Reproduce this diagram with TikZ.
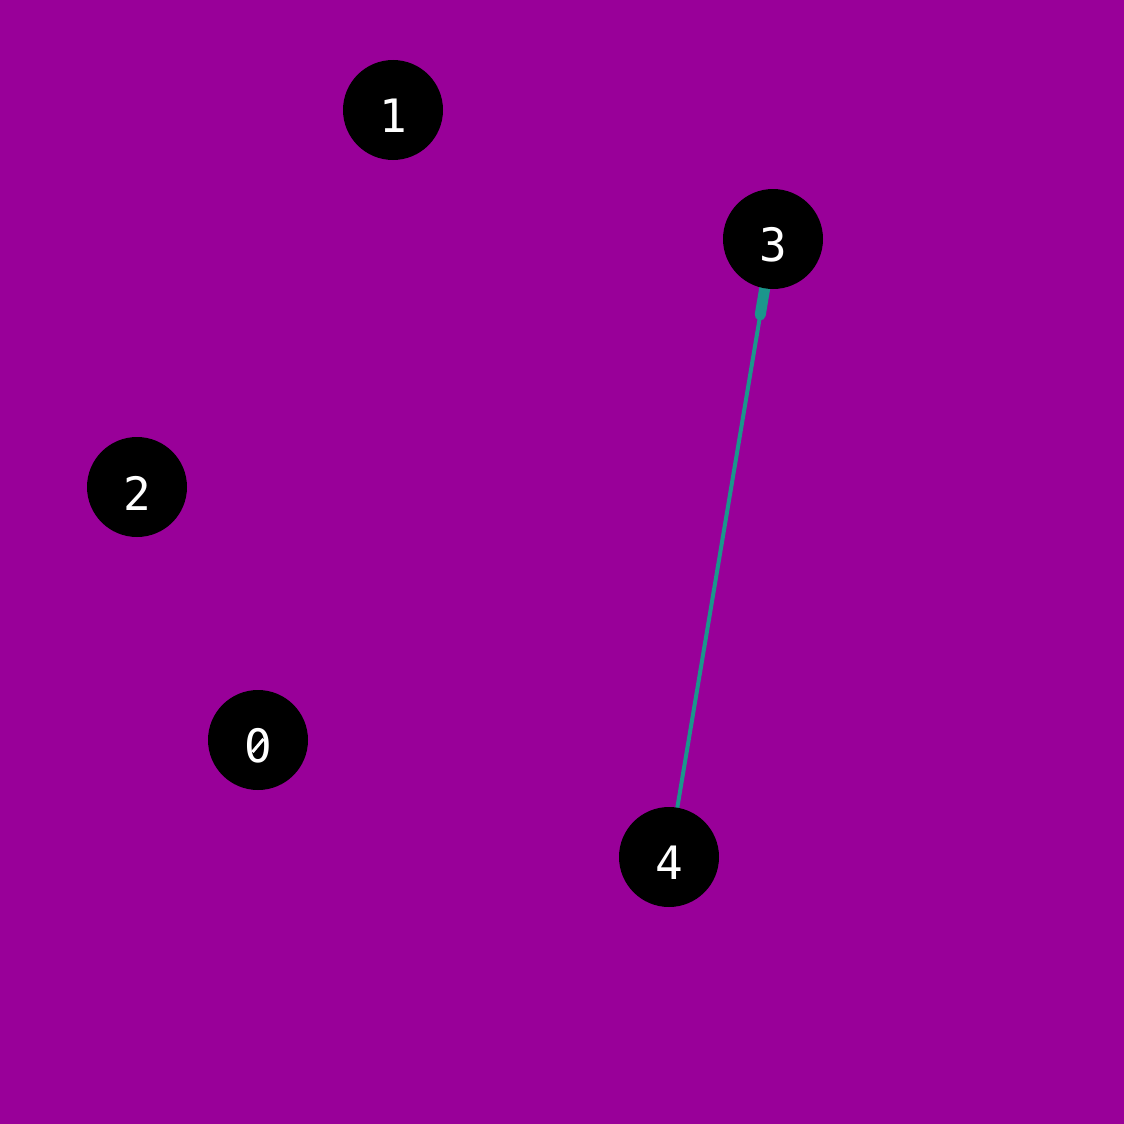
\documentclass[tikz,border=0pt]{standalone}
\usepackage{fontspec}
\newfontfamily\monofont{DejaVu Sans Mono}
\usetikzlibrary{calc}
\definecolor{bg}{RGB}{153,0,153}
\definecolor{edgec}{RGB}{27,150,140}
\tikzset{
  vert/.style={circle,fill=black,minimum size=100pt,inner sep=0pt},
  vlabel/.style={text=white,font=\monofont\fontsize{46}{46}\selectfont,inner sep=0pt},
  edgeline/.style={draw=edgec,line width=4pt},
  edgehead/.style={draw=edgec,line width=11pt,line cap=round}
}
\begin{document}
\begin{tikzpicture}[x=1pt,y=-1pt]
\fill[bg] (0,0) rectangle (1124,1124);
\useasboundingbox (0,0) rectangle (1124,1124);
\coordinate (c1) at (393,110);
\coordinate (c3) at (773,239);
\coordinate (c2) at (137,487);
\coordinate (c0) at (258,740);
\coordinate (c4) at (669,857);
% edge 4 -> 3 (drawn under the nodes)
\draw[edgeline] (c4) -- (c3);
\draw[edgehead] ($(c3)!77pt!(c4)$) -- ($(c3)!30pt!(c4)$);
\foreach \n in {1,3,2,0,4}{
  \node[vert] (n\n) at (c\n) {};
  \node[vlabel] (t\n) at ([yshift=-6pt]c\n) {\n};
}
% slashed zero
\fill[black] ([yshift=-6pt]c0) circle (4.5pt);
\draw[white,line width=3pt] ($(t0.center)+(-5.5,6)$) -- ($(t0.center)+(5.5,-7)$);
\end{tikzpicture}
\end{document}
